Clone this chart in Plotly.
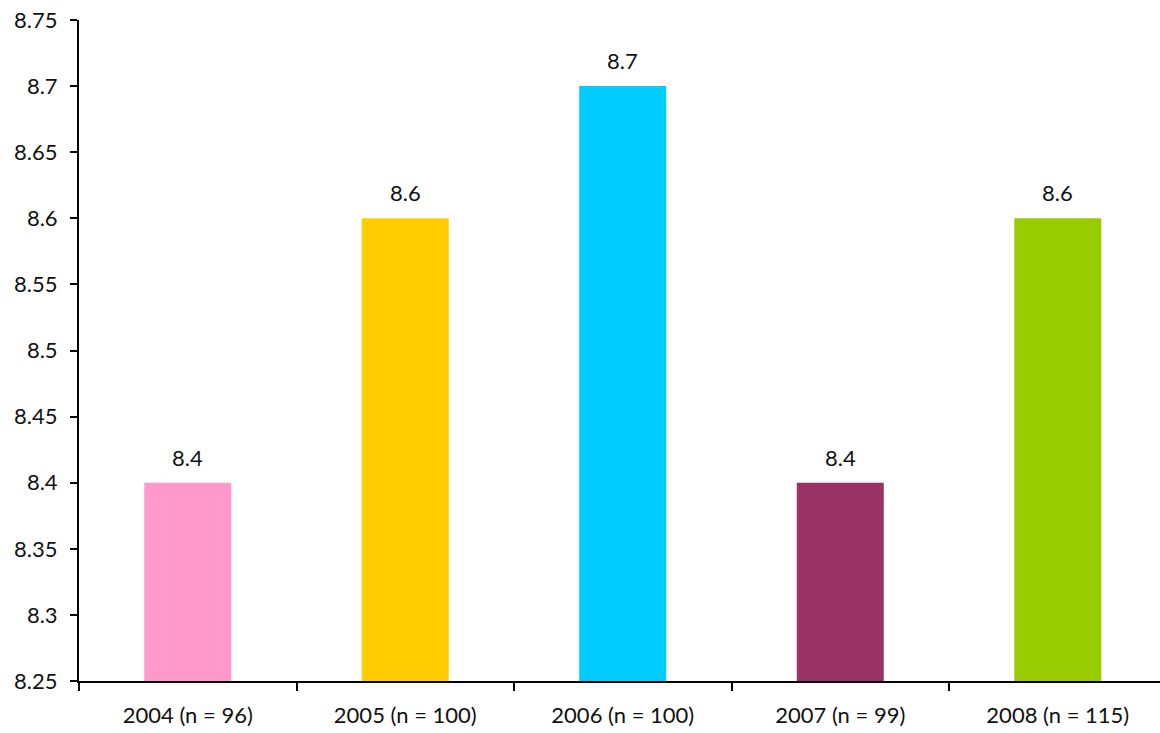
import plotly.graph_objects as go

categories = ["2004 (n = 96)", "2005 (n = 100)", "2006 (n = 100)", "2007 (n = 99)", "2008 (n = 115)"]
values = [8.4, 8.6, 8.7, 8.4, 8.6]
colors = ["#FF99CC", "#FFCC00", "#00CCFF", "#993366", "#99CC00"]
y_ticks = [8.25, 8.3, 8.35, 8.4, 8.45, 8.5, 8.55, 8.6, 8.65, 8.7, 8.75]
y_tick_text = ["8.25", "8.3", "8.35", "8.4", "8.45", "8.5", "8.55", "8.6", "8.65", "8.7", "8.75"]

font_family = "Lato, 'Open Sans', sans-serif"
text_color = "#111111"

fig = go.Figure(
    go.Bar(
        x=categories,
        y=values,
        marker=dict(color=colors, line=dict(width=0)),
        width=0.4,
        hoverinfo="x+y",
    )
)

# value labels sitting above each bar
for cat, val in zip(categories, values):
    fig.add_annotation(
        x=cat,
        y=val,
        text=f"{val:.1f}",
        showarrow=False,
        yanchor="bottom",
        yshift=10,
        font=dict(size=22, family=font_family, color=text_color),
    )

fig.update_layout(
    width=1160,
    height=733,
    margin=dict(l=79, r=0, t=20, b=52),
    paper_bgcolor="white",
    plot_bgcolor="white",
    showlegend=False,
    font=dict(family=font_family, size=22, color=text_color),
)

fig.update_xaxes(
    range=[-0.5, 4.47],
    showline=True,
    linecolor="black",
    linewidth=2,
    ticks="outside",
    tickson="boundaries",
    ticklen=8,
    tickwidth=2,
    tickcolor="black",
    showgrid=False,
    ticklabelstandoff=14,
    tickfont=dict(size=22, family=font_family, color=text_color),
)

fig.update_yaxes(
    range=[8.25, 8.75],
    tickvals=y_ticks,
    ticktext=y_tick_text,
    showline=True,
    linecolor="black",
    linewidth=2,
    ticks="outside",
    ticklen=7,
    tickwidth=2,
    tickcolor="black",
    showgrid=False,
    zeroline=False,
    ticklabelstandoff=8,
    tickfont=dict(size=22, family=font_family, color=text_color),
)

fig.write_html("out.html")
